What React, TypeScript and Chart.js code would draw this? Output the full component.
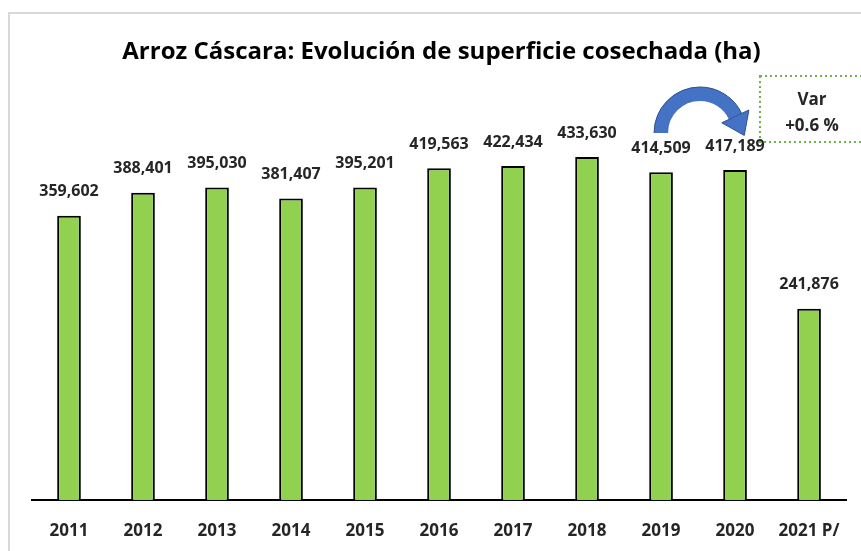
import React, { useEffect, useRef } from "react";
import { Chart, registerables } from "chart.js";

Chart.register(...registerables);

const categories = ["2011", "2012", "2013", "2014", "2015", "2016", "2017", "2018", "2019", "2020", "2021 P/"];
const superficie = [359602, 388401, 395030, 381407, 395201, 419563, 422434, 433630, 414509, 417189, 241876];
const titleText = "Arroz Cáscara: Evolución de superficie cosechada (ha)";
const varLines = ["Var", "+0.6 %"];

const FONT = "'Open Sans', 'DejaVu Sans', sans-serif";

const fmt = (v: number) => v.toLocaleString("en-US");

const framePlugin = {
  id: "frame",
  beforeDraw(chart: any) {
    const ctx = chart.ctx;
    ctx.save();
    ctx.fillStyle = "#ffffff";
    ctx.fillRect(0, 0, chart.width, chart.height);
    ctx.strokeStyle = "#d9d9d9";
    ctx.lineWidth = 2;
    ctx.beginPath();
    ctx.moveTo(9, chart.height + 5);
    ctx.lineTo(9, 13);
    ctx.lineTo(chart.width + 5, 13);
    ctx.stroke();
    ctx.restore();
  },
};

const labelsPlugin = {
  id: "valueLabels",
  afterDatasetsDraw(chart: any) {
    const ctx = chart.ctx;
    const meta = chart.getDatasetMeta(0);
    ctx.save();
    ctx.font = `bold 16px ${FONT}`;
    ctx.fillStyle = "#262626";
    ctx.textAlign = "center";
    ctx.textBaseline = "middle";
    meta.data.forEach((bar: any, i: number) => {
      ctx.fillText(fmt(superficie[i]), bar.x, bar.y - 24);
    });
    ctx.restore();
  },
};

const annotationPlugin = {
  id: "varAnnotation",
  afterDraw(chart: any) {
    const ctx = chart.ctx;
    const xs = chart.scales.x;
    const xa = xs.getPixelForValue(8);
    const xb = xs.getPixelForValue(9);
    ctx.save();
    // curved arrow
    const cx = (xa + xb) / 2 + 2;
    const cy = 133;
    const r = 39;
    const endA = Math.PI * 1.86;
    ctx.strokeStyle = "#4472C4";
    ctx.lineWidth = 14;
    ctx.lineCap = "butt";
    ctx.beginPath();
    ctx.arc(cx, cy, r, Math.PI, endA, false);
    ctx.stroke();
    ctx.lineWidth = 1;
    ctx.strokeStyle = "#2F528F";
    ctx.beginPath();
    ctx.arc(cx, cy, r + 7, Math.PI, endA, false);
    ctx.stroke();
    const ex = cx + r * Math.cos(endA);
    const ey = cy + r * Math.sin(endA);
    const tx = -Math.sin(endA);
    const ty = Math.cos(endA);
    const px = Math.cos(endA);
    const py = Math.sin(endA);
    ctx.fillStyle = "#4472C4";
    ctx.beginPath();
    ctx.moveTo(ex + px * 15, ey + py * 15);
    ctx.lineTo(ex + tx * 21, ey + ty * 21);
    ctx.lineTo(ex - px * 15, ey - py * 15);
    ctx.closePath();
    ctx.fill();
    ctx.stroke();
    // dotted box
    ctx.strokeStyle = "#70B34A";
    ctx.lineWidth = 2;
    ctx.setLineDash([2, 3]);
    ctx.strokeRect(760, 76, 140, 66);
    ctx.setLineDash([]);
    ctx.font = `bold 17px ${FONT}`;
    ctx.fillStyle = "#262626";
    ctx.textAlign = "center";
    ctx.textBaseline = "middle";
    ctx.fillText(varLines[0], 812, 100);
    ctx.fillText(varLines[1], 812, 126);
    ctx.restore();
  },
};

export default function App() {
  const ref = useRef<HTMLCanvasElement>(null);
  useEffect(() => {
    document.body.style.margin = "0";
    const chart = new Chart(ref.current!, {
      type: "bar",
      data: {
        labels: categories,
        datasets: [
          {
            data: superficie,
            backgroundColor: "#92D050",
            borderColor: "#000000",
            borderWidth: 2,
            barPercentage: 0.32,
            categoryPercentage: 1,
          },
        ],
      },
      options: {
        animation: false,
        responsive: false,
        maintainAspectRatio: false,
        layout: { padding: { left: 32, right: 10, top: 0, bottom: 0 } },
        plugins: {
          legend: { display: false },
          tooltip: { enabled: false },
          title: {
            display: true,
            text: titleText,
            color: "#000000",
            font: { family: FONT, size: 24, weight: "bold", lineHeight: 1.2 },
            padding: { top: 38, bottom: 22 },
          },
        },
        scales: {
          x: {
            grid: { display: false, drawTicks: false },
            border: { display: true, color: "#000000", width: 2 },
            ticks: {
              color: "#262626",
              font: { family: FONT, size: 17, weight: "bold" },
              padding: 21,
              maxRotation: 0,
              autoSkip: false,
            },
            afterFit(scale: any) {
              scale.height = 51;
            },
          },
          y: {
            display: false,
            min: 0,
            max: 520000,
          },
        },
      },
      plugins: [framePlugin, labelsPlugin, annotationPlugin],
    });
    return () => chart.destroy();
  }, []);
  return (
    <div style={{ width: 861, height: 551 }}>
      <canvas ref={ref} width={861} height={551} style={{ display: "block" }} />
    </div>
  );
}
